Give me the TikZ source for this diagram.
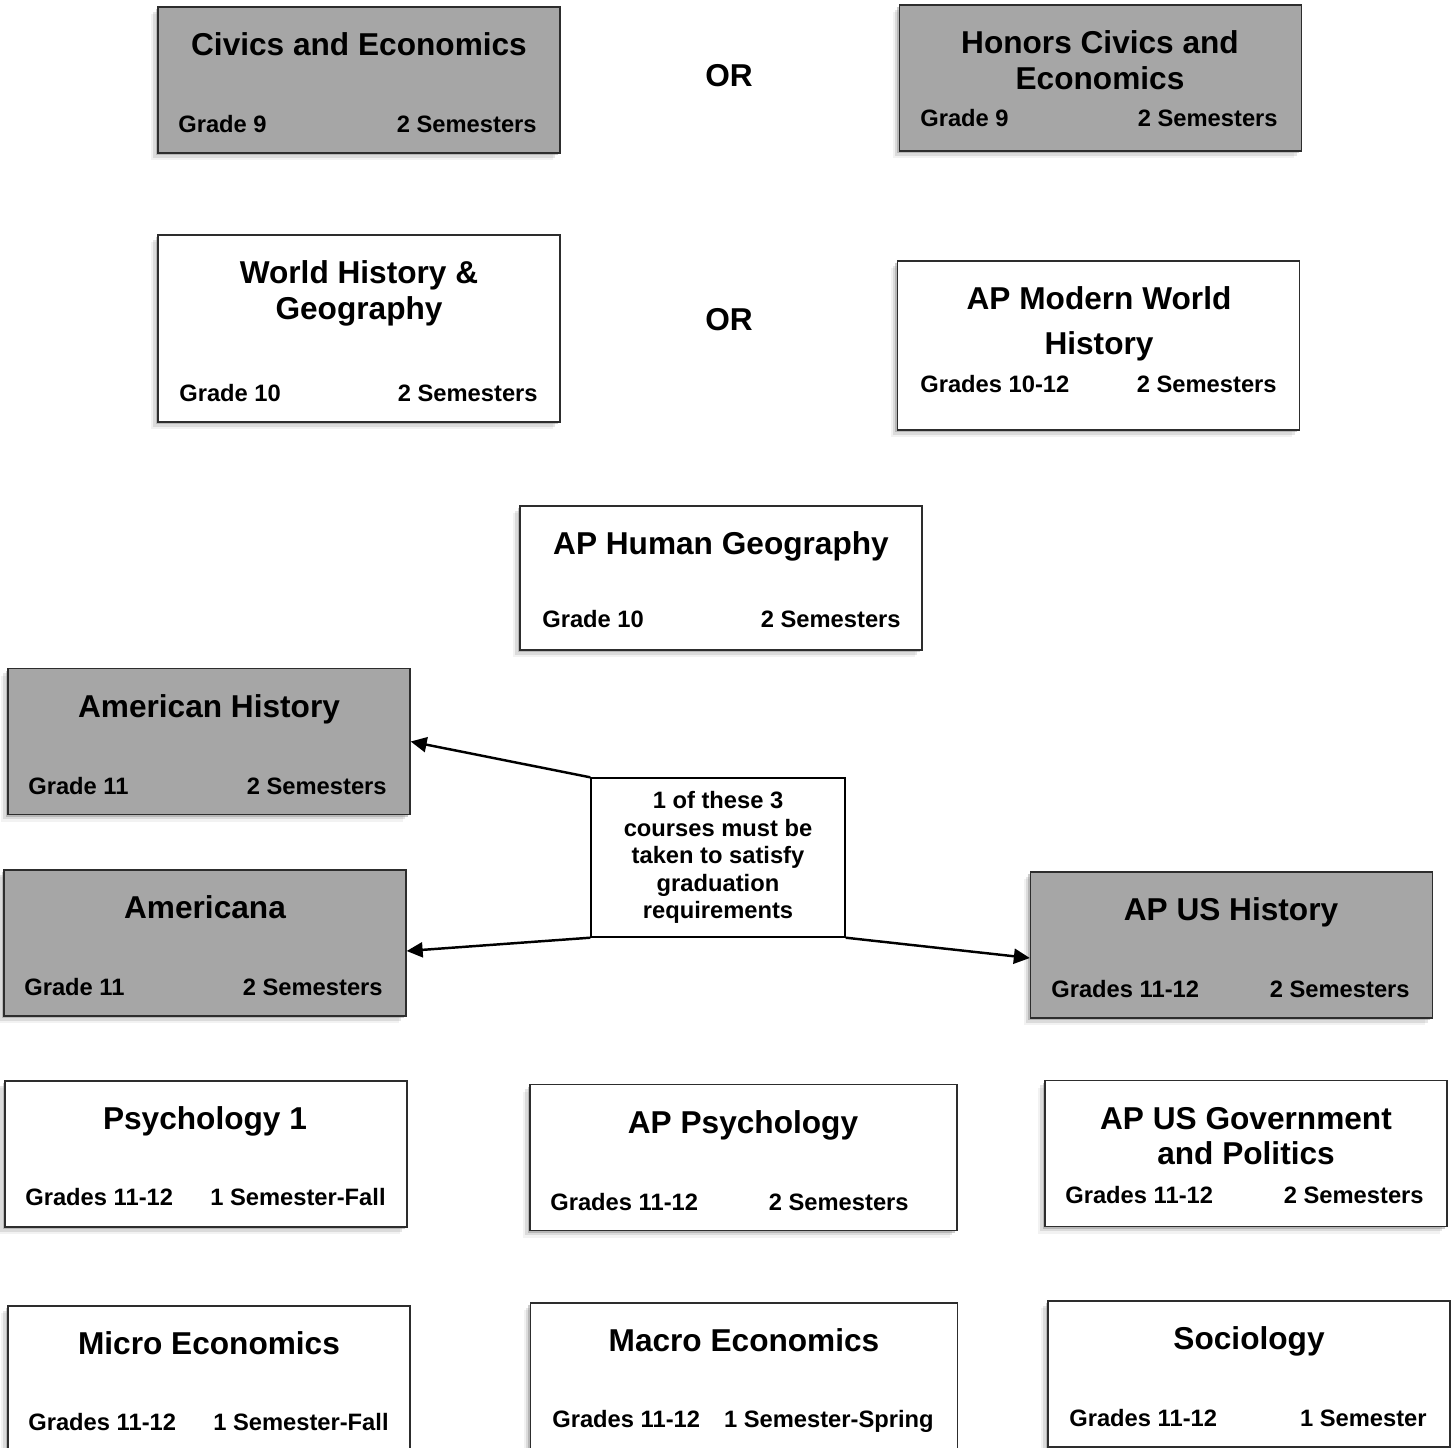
\documentclass[tikz,border=0pt]{standalone}
\usepackage{fontspec}
\setmainfont{Liberation Sans}
\definecolor{CourseGray}{RGB}{166,166,166}
\definecolor{FrameGray}{RGB}{45,45,45}
\usetikzlibrary{positioning,arrows.meta,shadows}

\begin{document}
\begin{tikzpicture}[x=0.02cm, y=-0.02cm,
      every node/.style={inner sep=0pt, font=\bfseries},
      course/.style={draw=FrameGray, line width=0.8pt, fill=white,
                     minimum width=8.04cm, minimum height=2.92cm,
                     drop shadow={shadow xshift=-1.2pt, shadow yshift=-1.4pt, opacity=0.4},
                     drop shadow={shadow xshift=-2.6pt, shadow yshift=-2.8pt, opacity=0.2},
                     drop shadow={shadow xshift=-4pt, shadow yshift=-4pt, opacity=0.1}},
      core/.style={course, fill=CourseGray},
      ttl/.style={font=\fontsize{18}{20.4}\selectfont\bfseries, align=center},
      sub/.style={font=\fontsize{13.5}{15.6}\selectfont\bfseries},
      notebox/.style={draw=black, line width=0.8pt, fill=white,
                      minimum width=5.08cm, minimum height=3.18cm, align=center,
                      font=\fontsize{13.5}{15.6}\selectfont\bfseries},
      arr/.style={-{Triangle[length=0.32cm,width=0.3cm]}, line width=1.4pt}
  ]
    \useasboundingbox (0,0) rectangle (1453,1447);
    \clip (0,0) rectangle (1453,1447);

    % grade 9
    \node[core] (civ) at (359,80) {};
    \node[ttl, anchor=base] (civ-t) at (359,55) {Civics and Economics};
    \node[sub, anchor=base west] (civ-g) at (178,132) {Grade 9};
    \node[sub, anchor=base east] (civ-s) at (537,132) {2 Semesters};
    \node[ttl] (or1) at (729,76) {OR};
    \node[core] (hon) at (1100.5,78) {};
    \node[ttl, text depth=0pt] (hon-t) at (1100,60) {Honors Civics and\\Economics};
    \node[sub, anchor=base west] (hon-g) at (920,126) {Grade 9};
    \node[sub, anchor=base east] (hon-s) at (1278,126) {2 Semesters};

    % grade 10
    \node[course, minimum height=3.74cm] (wh) at (359,328.5) {};
    \node[ttl, text depth=0pt] (wh-t) at (359,290) {World History \&\\Geography};
    \node[sub, anchor=base west] (wh-g) at (179,401) {Grade 10};
    \node[sub, anchor=base east] (wh-s) at (538,401) {2 Semesters};
    \node[ttl] (or2) at (729,320) {OR};
    \node[course, minimum height=3.38cm] (apw) at (1098.5,345.5) {};
    \node[ttl, text depth=0pt] (apw-t) at (1099,320.5) {AP Modern World\\[5pt]History};
    \node[sub, anchor=base west] (apw-g) at (920,392) {Grades 10-12};
    \node[sub, anchor=base east] (apw-s) at (1277,392) {2 Semesters};

    \node[course, minimum height=2.88cm] (aph) at (721,578) {};
    \node[ttl, anchor=base] (aph-t) at (721,554) {AP Human Geography};
    \node[sub, anchor=base west] (aph-g) at (542,627) {Grade 10};
    \node[sub, anchor=base east] (aph-s) at (901,627) {2 Semesters};

    % grade 11
    \node[core] (amh) at (209,741.5) {};
    \node[ttl, anchor=base] (amh-t) at (209,717) {American History};
    \node[sub, anchor=base west] (amh-g) at (28,794) {Grade 11};
    \node[sub, anchor=base east] (amh-s) at (387,794) {2 Semesters};

    \node[core] (ama) at (205,943) {};
    \node[ttl, anchor=base] (ama-t) at (205,918) {Americana};
    \node[sub, anchor=base west] (ama-g) at (24,995) {Grade 11};
    \node[sub, anchor=base east] (ama-s) at (383,995) {2 Semesters};

    \node[core] (apus) at (1231.5,945) {};
    \node[ttl, anchor=base] (apus-t) at (1231,920) {AP US History};
    \node[sub, anchor=base west] (apus-g) at (1051,997) {Grades 11-12};
    \node[sub, anchor=base east] (apus-s) at (1410,997) {2 Semesters};

    \node[notebox] (req) at (718,857.5)
      {\rule{0pt}{5pt}1 of these 3\\courses must be\\taken to satisfy\\graduation\\requirements};
    \draw[arr] (req.north west) -- (amh.east);
    \draw[arr] (req.south west) -- ([yshift=-0.16cm]ama.east);
    \draw[arr] (req.south east) -- ([yshift=-0.26cm]apus.west);

    % electives
    \node[course] (psy) at (206,1154) {};
    \node[ttl, anchor=base] (psy-t) at (205,1129) {Psychology 1};
    \node[sub, anchor=base west] (psy-g) at (25,1205) {Grades 11-12};
    \node[sub, anchor=base east] (psy-s) at (386,1205) {1 Semester-Fall};

    \node[course, minimum width=8.54cm] (app) at (743.5,1157.5) {};
    \node[ttl, anchor=base] (app-t) at (743,1133) {AP Psychology};
    \node[sub, anchor=base west] (app-g) at (550,1210) {Grades 11-12};
    \node[sub, anchor=base east] (app-s) at (909,1210) {2 Semesters};

    \node[course] (apg) at (1246,1153.5) {};
    \node[ttl, text depth=0pt] (apg-t) at (1246,1136) {AP US Government\\and Politics};
    \node[sub, anchor=base west] (apg-g) at (1065,1203) {Grades 11-12};
    \node[sub, anchor=base east] (apg-s) at (1424,1203) {2 Semesters};

    \node[course] (mic) at (209,1379) {};
    \node[ttl, anchor=base] (mic-t) at (209,1354) {Micro Economics};
    \node[sub, anchor=base west] (mic-g) at (28,1430) {Grades 11-12};
    \node[sub, anchor=base east] (mic-s) at (389,1430) {1 Semester-Fall};

    \node[course, minimum width=8.54cm] (mac) at (744,1376) {};
    \node[ttl, anchor=base] (mac-t) at (744,1351) {Macro Economics};
    \node[sub, anchor=base west] (mac-g) at (552,1427) {Grades 11-12};
    \node[sub, anchor=base east] (mac-s) at (934,1427) {1 Semester-Spring};

    \node[course] (soc) at (1249,1374) {};
    \node[ttl, anchor=base] (soc-t) at (1249,1349) {Sociology};
    \node[sub, anchor=base west] (soc-g) at (1069,1426) {Grades 11-12};
    \node[sub, anchor=base east] (soc-s) at (1427,1426) {1 Semester};
  \end{tikzpicture}
\end{document}
